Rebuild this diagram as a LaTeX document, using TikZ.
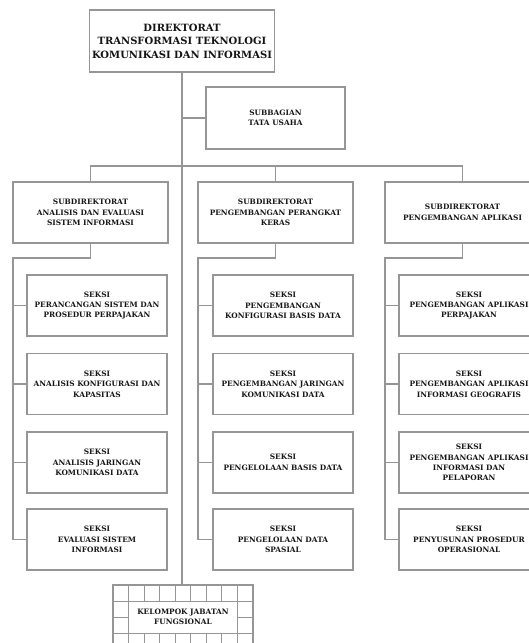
\documentclass[tikz,border=0pt]{standalone}
\usepackage{fontspec}
\setmainfont{DejaVu Serif}
\definecolor{linegray}{RGB}{150,150,150}
\definecolor{txt}{RGB}{20,20,20}
\begin{document}
\begin{tikzpicture}[x=1pt,y=-1pt,
  ln/.style={draw=linegray, line width=1.3pt},
  box/.style={ln, rectangle, align=center, inner sep=0pt, text=txt,
    font=\bfseries\fontsize{7.4}{10.4}\selectfont},
  subbox/.style={box, minimum width=155, minimum height=61},
  seksibox/.style={box, minimum width=140, minimum height=61},
  lbl/.style={align=center, inner sep=0pt, text=txt,
    font=\bfseries\fontsize{7.4}{10.4}\selectfont}]
\useasboundingbox (0,0) rectangle (529,643);

% top
\node[box, minimum width=185, minimum height=62,
  font=\bfseries\fontsize{10}{13.5}\selectfont] (top) at (182,41)
  {DIREKTORAT\\TRANSFORMASI TEKNOLOGI\\KOMUNIKASI DAN INFORMASI};
\node[box, minimum width=139, minimum height=62] (subbag) at (275.5,118)
  {SUBBAGIAN\\TATA USAHA};

% subdirektorat
\node[subbox] (sub1) at (90.5,212.5) {SUBDIREKTORAT\\ANALISIS DAN EVALUASI\\SISTEM INFORMASI};
\node[subbox] (sub2) at (275.5,212.5) {SUBDIREKTORAT\\PENGEMBANGAN PERANGKAT\\KERAS};
\node[subbox] (sub3) at (462.5,212.5) {SUBDIREKTORAT\\PENGEMBANGAN APLIKASI};

% seksi left
\node[seksibox] (s11) at (97,305.5) {SEKSI\\PERANCANGAN SISTEM DAN\\PROSEDUR PERPAJAKAN};
\node[seksibox] (s12) at (97,384) {SEKSI\\ANALISIS KONFIGURASI DAN\\KAPASITAS};
\node[seksibox] (s13) at (97,462.5) {SEKSI\\ANALISIS JARINGAN\\KOMUNIKASI DATA};
\node[seksibox] (s14) at (97,539.5) {SEKSI\\EVALUASI SISTEM\\INFORMASI};
% seksi middle
\node[seksibox] (s21) at (283,305.5) {SEKSI\\PENGEMBANGAN\\KONFIGURASI BASIS DATA};
\node[seksibox] (s22) at (283,384) {SEKSI\\PENGEMBANGAN JARINGAN\\KOMUNIKASI DATA};
\node[seksibox] (s23) at (283,462.5) {SEKSI\\PENGELOLAAN BASIS DATA};
\node[seksibox] (s24) at (283,539.5) {SEKSI\\PENGELOLAAN DATA\\SPASIAL};
% seksi right
\node[seksibox] (s31) at (469,305.5) {SEKSI\\PENGEMBANGAN APLIKASI\\PERPAJAKAN};
\node[seksibox] (s32) at (469,384) {SEKSI\\PENGEMBANGAN APLIKASI\\INFORMASI GEOGRAFIS};
\node[seksibox] (s33) at (469,462.5) {SEKSI\\PENGEMBANGAN APLIKASI\\INFORMASI DAN\\PELAPORAN};
\node[seksibox] (s34) at (469,539.5) {SEKSI\\PENYUSUNAN PROSEDUR\\OPERASIONAL};

% kelompok jabatan fungsional
\node[ln, rectangle, inner sep=0pt, minimum width=140, minimum height=80] (kel) at (183,625) {};
\node[lbl, font=\bfseries\fontsize{7.4}{10}\selectfont] (keltext) at (183,617) {KELOMPOK JABATAN\\FUNGSIONAL};
\foreach \i in {1,...,8} {
  \draw[ln, line width=1pt] ({113+15.556*\i},585) -- ({113+15.556*\i},601);
  \draw[ln, line width=1pt] ({113+15.556*\i},633) -- ({113+15.556*\i},665);
}
\draw[ln, line width=1pt] (128.556,601) -- (128.556,633);
\draw[ln, line width=1pt] (237.444,601) -- (237.444,633);
\foreach \yy in {601,633,649} \draw[ln, line width=1pt] (113,\yy) -- (253,\yy);
\draw[ln, line width=1pt] (113,617) -- (128.556,617);
\draw[ln, line width=1pt] (237.444,617) -- (253,617);

% connectors
\draw[ln] (top.south) -- (top.south |- kel.north);
\draw[ln] (subbag.west) -- (subbag.west -| top.south);
\coordinate (bus) at (275.5,166);
\draw[ln] (sub1.north) |- (bus) -| (sub3.north);
\draw[ln] (sub2.north) -- (bus);

\coordinate (sp1) at (13,258);
\coordinate (sp2) at (198,258);
\coordinate (sp3) at (385,258);
\foreach \c in {1,2,3} {
  \draw[ln] (sub\c.south) |- (sp\c) |- (s\c4.west);
  \foreach \r in {1,2,3} \draw[ln] (s\c\r.west) -- (s\c\r.west -| sp\c);
}
\end{tikzpicture}
\end{document}
